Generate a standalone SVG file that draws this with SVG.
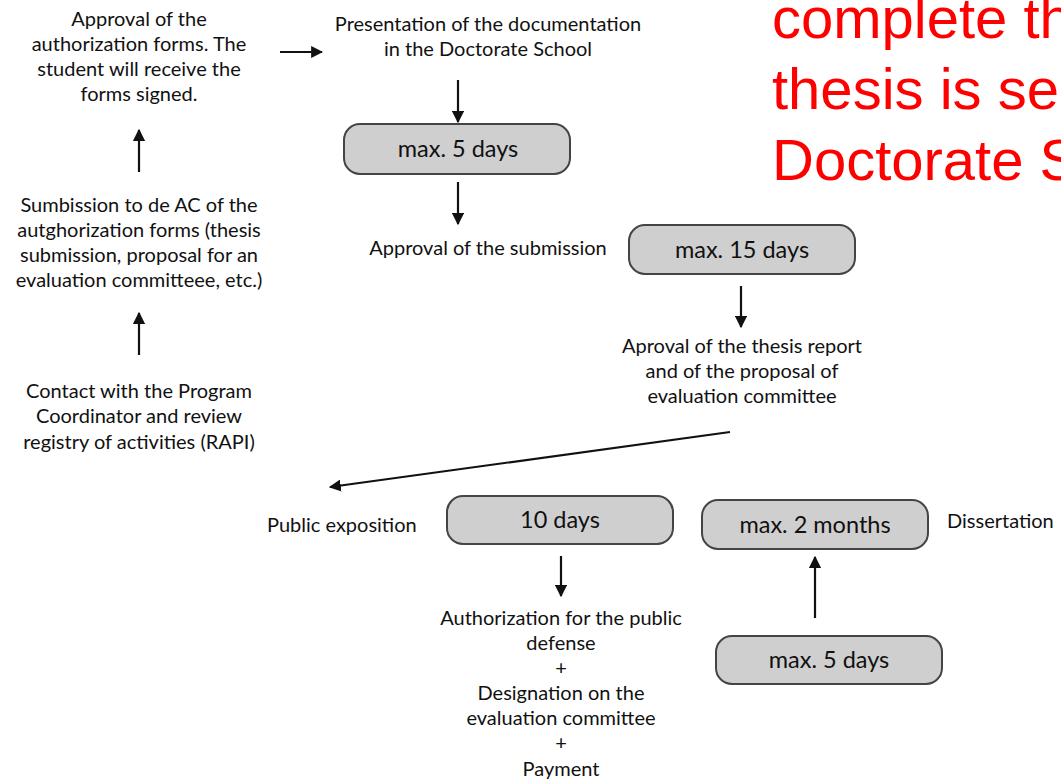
<svg xmlns="http://www.w3.org/2000/svg" width="1061" height="782" viewBox="0 0 1061 782">
<defs>
<marker id="ah" viewBox="0 0 10 10" refX="9" refY="5" markerWidth="5.5" markerHeight="5.5" orient="auto" markerUnits="strokeWidth">
<path d="M0,0 L10,5 L0,10 z" fill="#111"/>
</marker>
<style>
.t{font-family:Lato,"Open Sans",sans-serif;font-size:20px;fill:#111;text-anchor:middle}
.l{text-anchor:start}
.box{fill:#cfcfcf;stroke:#444;stroke-width:2}
.bt{font-family:Lato,"Open Sans",sans-serif;font-size:23.5px;fill:#111;text-anchor:middle}
.red{font-family:"Liberation Sans",Arial,sans-serif;font-size:58px;fill:#ff0000}
.c{stroke:#111;stroke-width:2.2;fill:none;marker-end:url(#ah)}
</style>
</defs>
<rect width="1061" height="782" fill="#fff"/>
<g id="red-note">
<text class="red" x="772" y="38">complete th</text>
<text class="red" x="772" y="109">thesis is ser</text>
<text class="red" x="772" y="180">Doctorate S</text>
</g>
<g id="n-approval-forms">
<text class="t" x="139" y="26">Approval of the</text>
<text class="t" x="139" y="51">authorization forms. The</text>
<text class="t" x="139" y="76">student will receive the</text>
<text class="t" x="139" y="101">forms signed.</text>
</g>
<g id="n-submission-ac">
<text class="t" x="139" y="212">Sumbission to de AC of the</text>
<text class="t" x="139" y="237">autghorization forms (thesis</text>
<text class="t" x="139" y="262">submission,  proposal for an</text>
<text class="t" x="139" y="287">evaluation committeee, etc.)</text>
</g>
<g id="n-contact">
<text class="t" x="139" y="398">Contact with the Program</text>
<text class="t" x="139" y="423">Coordinator and review</text>
<text class="t" x="139" y="449">registry of activities (RAPI)</text>
</g>
<g id="n-presentation">
<text class="t" x="488" y="31">Presentation of the documentation</text>
<text class="t" x="488" y="56">in the Doctorate School</text>
</g>
<g id="n-max5">
<rect class="box" x="344" y="124" width="226" height="50" rx="16"/>
<text class="bt" x="458" y="157">max. 5 days</text>
</g>
<g id="n-approval-submission">
<text class="t" x="488" y="255">Approval of the submission</text>
</g>
<g id="n-max15">
<rect class="box" x="629" y="225" width="226" height="49" rx="16"/>
<text class="bt" x="742" y="258">max. 15 days</text>
</g>
<g id="n-aproval-report">
<text class="t" x="742" y="353">Aproval of the thesis report</text>
<text class="t" x="742" y="378">and of the proposal of</text>
<text class="t" x="742" y="403">evaluation committee</text>
</g>
<g id="n-public-exposition">
<text class="t l" x="267" y="532">Public exposition</text>
</g>
<g id="n-10days">
<rect class="box" x="447" y="496" width="226" height="48" rx="16"/>
<text class="bt" x="560" y="528">10 days</text>
</g>
<g id="n-authorization">
<text class="t" x="561" y="625">Authorization for the public</text>
<text class="t" x="561" y="650">defense</text>
<text class="t" x="561" y="675">+</text>
<text class="t" x="561" y="700">Designation on the</text>
<text class="t" x="561" y="725">evaluation committee</text>
<text class="t" x="561" y="750">+</text>
<text class="t" x="561" y="776">Payment</text>
</g>
<g id="n-max2months">
<rect class="box" x="702" y="500" width="226" height="49" rx="16"/>
<text class="bt" x="815" y="533">max. 2 months</text>
</g>
<g id="n-dissertation">
<text class="t l" x="947" y="528">Dissertation</text>
</g>
<g id="n-max5b">
<rect class="box" x="716" y="636" width="226" height="48" rx="16"/>
<text class="bt" x="829" y="668">max.  5 days</text>
</g>
<g id="connectors">
<line class="c" x1="280" y1="52" x2="322" y2="52"/>
<line class="c" x1="139" y1="172" x2="139" y2="130"/>
<line class="c" x1="139" y1="355" x2="139" y2="313"/>
<line class="c" x1="458" y1="80" x2="458" y2="122"/>
<line class="c" x1="458" y1="182" x2="458" y2="224"/>
<line class="c" x1="741" y1="286" x2="741" y2="327"/>
<line class="c" x1="730" y1="432" x2="330" y2="487"/>
<line class="c" x1="561" y1="556" x2="561" y2="596"/>
<line class="c" x1="815" y1="618" x2="815" y2="557"/>
</g>
</svg>
